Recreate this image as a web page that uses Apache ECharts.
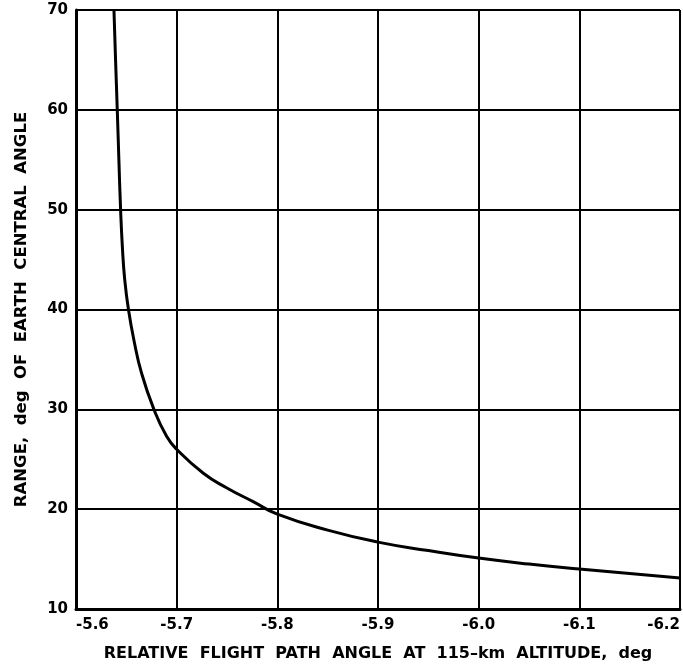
<!DOCTYPE html>
<html>
<head>
<meta charset="utf-8">
<script src="https://cdn.jsdelivr.net/npm/echarts@6/dist/echarts.min.js"></script>
<style>
html,body{margin:0;padding:0;background:#fff;}
#chart{width:683px;height:668px;}
</style>
</head>
<body>
<div id="chart"></div>
<script>
// Relative flight path angle at 115-km altitude, deg
const flightPathAngle = [-5.6377, -5.6393, -5.641, -5.6426, -5.6443, -5.6461, -5.6484, -5.6521, -5.6575, -5.6652, -5.6774, -5.690, -5.700, -5.7265, -5.7495, -5.776, -5.80, -5.85, -5.90, -5.95, -6.00, -6.05, -6.10, -6.15, -6.20];
// Range, deg of earth central angle
const rangeDeg = [70, 65, 60, 55, 50, 46.2, 43, 40, 36.95, 33.6, 30, 27.3, 26.0, 23.6, 22.15, 20.75, 19.5, 17.9, 16.7, 15.85, 15.1, 14.5, 14.0, 13.55, 13.1];
const xTickLabels = ['-5.6', '-5.7', '-5.8', '-5.9', '-6.0', '-6.1', '-6.2'];
const yTickLabels = ['10', '20', '30', '40', '50', '60', '70'];

const curve = flightPathAngle.map((x, i) => [x, rangeDeg[i]]);
const font = 'DejaVu Sans';

const chart = echarts.init(document.getElementById('chart'), null, {renderer: 'canvas'});
chart.setOption({
  animation: false,
  backgroundColor: '#fff',
  grid: {left: 76, top: 10, right: 2, bottom: 59, containLabel: false},
  xAxis: {
    type: 'value', min: -6.2, max: -5.6, interval: 0.1, inverse: true,
    name: 'RELATIVE  FLIGHT  PATH  ANGLE  AT  115\u2013km  ALTITUDE,  deg',
    nameLocation: 'middle', nameGap: 37,
    nameTextStyle: {fontFamily: font, fontSize: 16, fontWeight: 'bold', color: '#000'},
    axisLine: {show: true, onZero: false, lineStyle: {color: '#000', width: 3}},
    axisTick: {show: false},
    splitLine: {show: true, lineStyle: {color: '#000', width: 2}},
    axisLabel: {
      fontFamily: font, fontSize: 15, fontWeight: 'bold', color: '#000', margin: 9,
      alignMinLabel: 'right', alignMaxLabel: 'left',
      formatter: v => xTickLabels[Math.round((-5.6 - v) / 0.1)]
    }
  },
  yAxis: {
    type: 'value', min: 10, max: 70, interval: 10,
    name: 'RANGE,  deg  OF  EARTH  CENTRAL  ANGLE',
    nameLocation: 'middle', nameGap: 46,
    nameTextStyle: {fontFamily: font, fontSize: 16.5, fontWeight: 'bold', color: '#000'},
    axisLine: {show: true, lineStyle: {color: '#000', width: 3}},
    axisTick: {show: false},
    splitLine: {show: true, lineStyle: {color: '#000', width: 2}},
    axisLabel: {
      fontFamily: font, fontSize: 15, fontWeight: 'bold', color: '#000', margin: 8,
      formatter: v => yTickLabels[Math.round((v - 10) / 10)]
    }
  },
  series: [{
    type: 'line', data: curve, smooth: 0.5, showSymbol: false,
    lineStyle: {color: '#000', width: 3}, z: 5
  }]
});
</script>
</body>
</html>
